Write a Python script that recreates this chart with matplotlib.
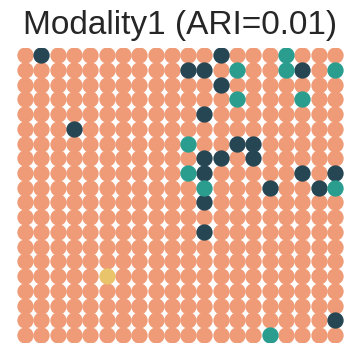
import numpy as np
import matplotlib
matplotlib.use("Agg")
import matplotlib.pyplot as plt

# 20 x 20 spot grid, cluster label per spot (0 = majority cluster)
n_cols = 20
n_rows = 20

# (col, row from top, cluster)
odd_spots = [
    (1, 0, 1), (12, 0, 1), (16, 0, 2),
    (10, 1, 1), (11, 1, 1), (13, 1, 2), (16, 1, 2), (17, 1, 1), (19, 1, 2),
    (12, 2, 1),
    (13, 3, 2), (17, 3, 2),
    (11, 4, 1),
    (3, 5, 1),
    (10, 6, 2), (13, 6, 1), (14, 6, 1),
    (11, 7, 1), (12, 7, 1), (14, 7, 1),
    (10, 8, 2), (11, 8, 1), (17, 8, 1), (19, 8, 1),
    (11, 9, 2), (15, 9, 1), (18, 9, 1), (19, 9, 2),
    (11, 10, 1),
    (11, 12, 1),
    (5, 15, 3),
    (19, 18, 1),
    (15, 19, 2),
]

colors = ["#EF9B78", "#264653", "#2A9D8F", "#E9C46A"]
title = "Modality1 (ARI=0.01)"

cols, rows = np.meshgrid(np.arange(n_cols), np.arange(n_rows))
cols = cols.ravel()
rows = rows.ravel()
labels = np.zeros(n_cols * n_rows, dtype=int)
for c, r, k in odd_spots:
    labels[r * n_cols + c] = k

plt.rcParams['font.family'] = ['Liberation Sans', 'DejaVu Sans']
fig = plt.figure(figsize=(3.6, 3.59), dpi=100)
ax = fig.add_axes([0.047, 0.046, 0.906, 0.821])

# draw majority first, then the others on top
for k in range(len(colors)):
    m = labels == k
    ax.scatter(cols[m], rows[m], s=138, c=colors[k], linewidths=0)

ax.set_xlim(-0.5, n_cols - 0.5)
ax.set_ylim(n_rows - 0.5, -0.5)
ax.axis('off')
fig.suptitle(title, fontsize=24, x=0.5, y=0.972, color="#262626")

plt.savefig("out.png", dpi=100)
